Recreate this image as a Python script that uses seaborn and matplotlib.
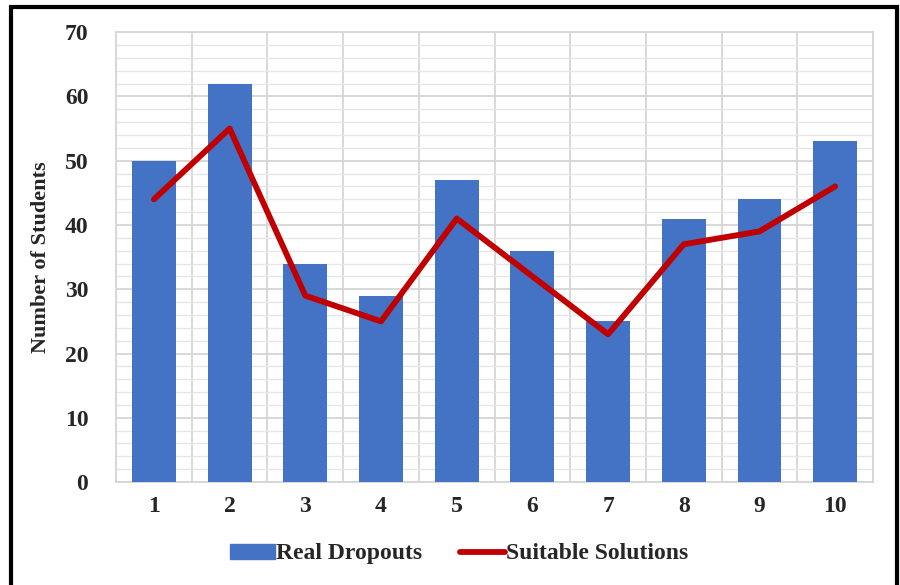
import matplotlib
matplotlib.use("Agg")
import matplotlib.pyplot as plt
import seaborn as sns
import pandas as pd
import numpy as np
from matplotlib.patches import Rectangle
from matplotlib.lines import Line2D
from matplotlib.patches import Patch
from matplotlib.ticker import MultipleLocator, FixedLocator

categories = ["1", "2", "3", "4", "5", "6", "7", "8", "9", "10"]
real_dropouts = [50, 62, 34, 29, 47, 36, 25, 41, 44, 53]
suitable_solutions = [44, 55, 29, 25, 41, 32, 23, 37, 39, 46]

sns.set_theme(style="white")
plt.rcParams['font.family'] = ['Liberation Serif', 'DejaVu Serif']
plt.rcParams['font.weight'] = 'bold'

df = pd.DataFrame({"cat": categories, "real": real_dropouts, "sol": suitable_solutions})

fig = plt.figure(figsize=(9, 5.85), dpi=100)
ax = fig.add_axes([0.129, 0.176, 0.841, 0.769])

bar_color = "#4472C4"
line_color = "#C00000"

sns.barplot(data=df, x="cat", y="real", color=bar_color, width=0.58,
            saturation=1, ax=ax, zorder=3, linewidth=0)
sns.lineplot(x=np.arange(len(categories)), y=df["sol"], color=line_color,
             linewidth=4.2, ax=ax, zorder=4)

ax.set_xlim(-0.5, len(categories) - 0.5)
ax.set_ylim(0, 70)
ax.yaxis.set_major_locator(MultipleLocator(10))
ax.yaxis.set_minor_locator(MultipleLocator(2))
ax.xaxis.set_minor_locator(FixedLocator(np.arange(-0.5, len(categories), 1.0)))
ax.grid(which="minor", axis="y", color="#e6e6e6", linewidth=1.0, zorder=0)
ax.grid(which="major", axis="y", color="#d6d6d6", linewidth=1.3, zorder=0)
ax.grid(which="minor", axis="x", color="#d6d6d6", linewidth=1.3, zorder=0)
ax.set_axisbelow(True)
for s in ax.spines.values():
    s.set_color("#d6d6d6")
    s.set_linewidth(1.3)

ax.tick_params(axis="both", which="both", length=0, labelsize=17)
ax.tick_params(axis="x", pad=10)
ax.tick_params(axis="y", pad=20)
for lab in ax.get_xticklabels() + ax.get_yticklabels():
    lab.set_fontweight("bold")
ax.set_xlabel("")
ax.set_ylabel("Number of Students", fontsize=16, fontweight="bold", labelpad=10)

handles = [Patch(facecolor=bar_color, edgecolor=bar_color),
           Line2D([0], [0], color=line_color, linewidth=4.2)]
fig.legend(handles, ["Real Dropouts", "Suitable Solutions"],
           loc="center", bbox_to_anchor=(0.51, 0.053), ncol=2, frameon=False,
           prop={"size": 17, "weight": "bold"}, handlelength=1.9,
           handleheight=0.6, handletextpad=0.05, columnspacing=1.6)

fig.patches.append(Rectangle((0.012, -0.05), 0.985, 1.038, transform=fig.transFigure,
                             fill=False, edgecolor="black", linewidth=3, zorder=10))

fig.savefig("out.png", dpi=100, facecolor="white")
